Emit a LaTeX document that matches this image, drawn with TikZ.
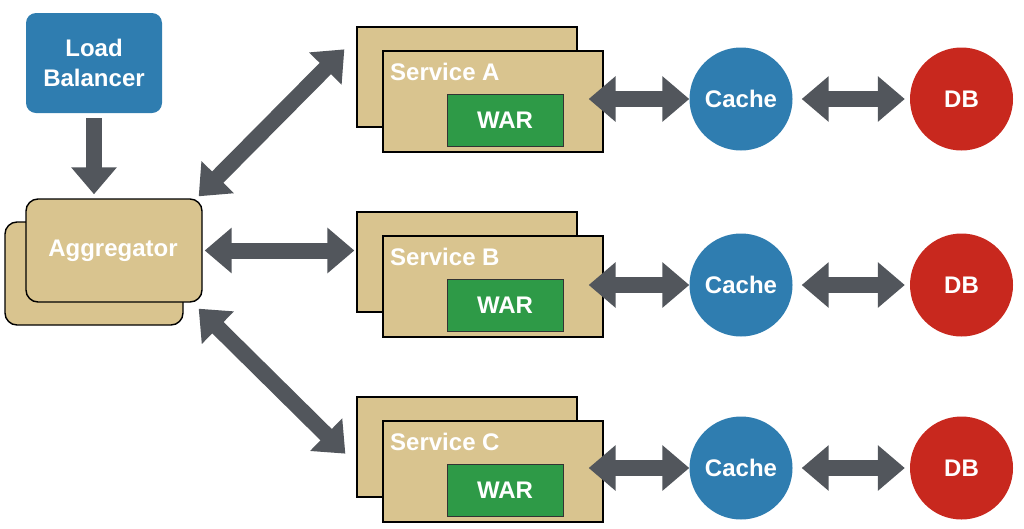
\documentclass[tikz,border=0pt]{standalone}
\usepackage{fontspec}
\setmainfont{Liberation Sans}
\usetikzlibrary{arrows.meta}
\definecolor{lbblue}{RGB}{47,125,176}
\definecolor{tan}{RGB}{217,196,143}
\definecolor{wargreen}{RGB}{46,154,71}
\definecolor{dbred}{RGB}{200,40,30}
\definecolor{arrgray}{RGB}{82,86,92}
\tikzset{
  lbbox/.style={draw=none,fill=lbblue,rounded corners=10pt,minimum width=136pt,minimum height=100pt,text=white,font=\fontsize{24}{30}\selectfont\bfseries,align=center,inner sep=0pt},
  aggbox/.style={draw=black,line width=1.4pt,fill=tan,rounded corners=12pt,minimum width=176pt,minimum height=103pt,inner sep=0pt},
  svcbox/.style={draw=black,line width=1.3pt,fill=tan,minimum width=220pt,minimum height=100pt,inner sep=0pt},
  warbox/.style={draw=black!80,line width=0.8pt,fill=wargreen,minimum width=116pt,minimum height=52pt,text=white,font=\fontsize{24}{28}\selectfont\bfseries,inner sep=0pt},
  lbl/.style={text=white,font=\fontsize{24}{28}\selectfont\bfseries,inner sep=0pt},
  cachec/.style={circle,fill=lbblue,minimum size=103pt,text=white,font=\fontsize{24}{28}\selectfont\bfseries,inner sep=0pt},
  dbc/.style={circle,fill=dbred,minimum size=103pt,text=white,font=\fontsize{24}{28}\selectfont\bfseries,inner sep=0pt},
  fat/.style={draw=arrgray,line width=16pt,arrows={-{Triangle[width=44pt,length=27pt]}}},
  fatboth/.style={draw=arrgray,line width=16pt,arrows={{Triangle[width=44pt,length=27pt]}-{Triangle[width=44pt,length=27pt]}}},
}
\begin{document}
\begin{tikzpicture}[x=1pt,y=-1pt]
\useasboundingbox (0,0) rectangle (1024,528);
% load balancer
\node[lbbox] (lb) at (94,63) {Load\\Balancer};
% aggregator
\node[aggbox,minimum width=178pt] (aggback) at (94,273.5) {};
\node[aggbox] (agg) at (114,250.5) {};
\node[lbl] (agglbl) at (113,251) {Aggregator};
% services
\foreach \n/\dy/\s in {A/0/A,B/185/B,C/370/C}{
  \node[svcbox] (back\n) at (467,77+\dy) {};
  \node[svcbox,minimum height=101pt] (svc\n) at (493,101.5+\dy) {};
  \node[lbl,anchor=west] (svclbl\n) at (390,72+\dy) {Service \s};
  \node[warbox] (war\n) at (505,120+\dy) {WAR};
}
\foreach \n/\cy in {A/99,B/285,C/468}{
  \node[cachec] (cache\n) at (741,\cy) {Cache};
  \node[dbc] (db\n) at (961.5,\cy) {DB};
}
% arrows
\draw[fat] ([yshift=-5pt]lb.south) -- ([yshift=4pt]lb.south |- agg.north);
\draw[fatboth] ([shift={(-4pt,2pt)}]agg.north east) -- ([shift={(-12pt,-23pt)}]backA.north west);
\draw[fatboth] ([xshift=2pt]agg.east) -- ([xshift=-2pt]backB.west |- agg.east);
\draw[fatboth] ([shift={(-4pt,-6pt)}]agg.south east) -- ([shift={(-11pt,44pt)}]backC.south west);
\foreach \n in {A,B,C}{
  \draw[fatboth] ([xshift=-15pt]svc\n.east |- cache\n.west) -- (cache\n.west);
  \draw[fatboth] ([xshift=9pt]cache\n.east) -- ([xshift=-5pt]db\n.west);
}
\end{tikzpicture}
\end{document}
